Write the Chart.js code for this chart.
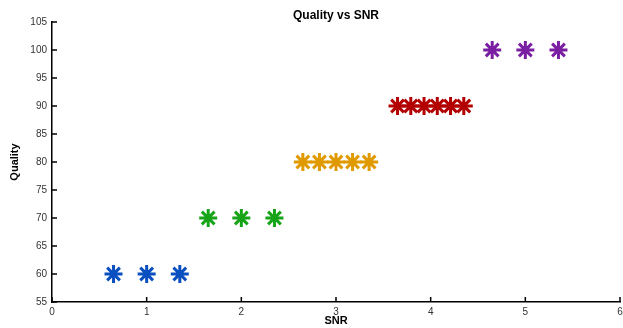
<!DOCTYPE html>
<html>
<head>
<meta charset="utf-8">
<script src="https://cdn.jsdelivr.net/npm/chart.js@4.4.0/dist/chart.umd.min.js"></script>
<style>
  html, body { margin: 0; padding: 0; background: #fff; }
  #wrap { width: 623px; height: 328px; }
</style>
</head>
<body>
<div id="wrap"><canvas id="chart" width="623" height="328"></canvas></div>
<script>
// data
const snrBlue = [0.65, 1.0, 1.35];
const qualBlue = [60, 60, 60];
const snrGreen = [1.65, 2.0, 2.35];
const qualGreen = [70, 70, 70];
const snrOrange = [2.65, 2.825, 3.0, 3.175, 3.35];
const qualOrange = [80, 80, 80, 80, 80];
const snrRed = [3.65, 3.79, 3.93, 4.07, 4.21, 4.35];
const qualRed = [90, 90, 90, 90, 90, 90];
const snrPurple = [4.65, 5.0, 5.35];
const qualPurple = [100, 100, 100];

const xTicks = [0, 1, 2, 3, 4, 5, 6];
const yTicks = [55, 60, 65, 70, 75, 80, 85, 90, 95, 100, 105];

function pts(xs, ys) {
    return xs.map((x, i) => ({ x: x, y: ys[i] }));
}

function series(xs, ys, color) {
    return {
        data: pts(xs, ys),
        pointStyle: 'star',
        pointRadius: 9,
        pointBorderWidth: 3,
        borderColor: color,
        backgroundColor: color,
        showLine: false
    };
}

// ticks pointing into the plot, like the matlab axes
const innerTicks = {
    id: 'innerTicks',
    afterDatasetsDraw(chart) {
        const ctx = chart.ctx;
        const xs = chart.scales.x, ys = chart.scales.y;
        ctx.save();
        ctx.strokeStyle = '#000';
        ctx.lineWidth = 1.5;
        ctx.beginPath();
        xTicks.forEach(v => {
            const px = xs.getPixelForValue(v);
            ctx.moveTo(px, ys.bottom);
            ctx.lineTo(px, ys.bottom - 5);
        });
        yTicks.forEach(v => {
            const py = ys.getPixelForValue(v);
            ctx.moveTo(xs.left, py);
            ctx.lineTo(xs.left + 5, py);
        });
        ctx.stroke();
        ctx.restore();
    }
};

const tickFont = { family: 'Liberation Sans, Arial, sans-serif', size: 10 };
const axisFont = { family: 'Liberation Sans, Arial, sans-serif', size: 11, weight: 'bold' };
const titleFont = { family: 'Liberation Sans, Arial, sans-serif', size: 12, weight: 'bold', lineHeight: 1 };

new Chart(document.getElementById('chart'), {
    type: 'scatter',
    data: {
        datasets: [
            series(snrBlue, qualBlue, '#0a4fc0'),
            series(snrGreen, qualGreen, '#18a418'),
            series(snrOrange, qualOrange, '#e09a00'),
            series(snrRed, qualRed, '#b30000'),
            series(snrPurple, qualPurple, '#7a1fa2')
        ]
    },
    options: {
        responsive: false,
        animation: false,
        layout: { autoPadding: false, padding: { left: 0, right: 3, top: 0, bottom: 0 } },
        plugins: {
            legend: { display: false },
            tooltip: { enabled: false },
            title: {
                display: true,
                fullSize: false,
                text: 'Quality vs SNR',
                color: '#000',
                font: titleFont,
                padding: { top: 10, bottom: 0 }
            }
        },
        scales: {
            x: {
                type: 'linear',
                min: 0,
                max: 6,
                afterBuildTicks: s => { s.ticks = xTicks.map(v => ({ value: v })); },
                afterFit: s => { s.height = 26; s.paddingRight = 0; },
                ticks: { color: '#333', font: tickFont, padding: 4 },
                grid: { display: false, drawTicks: false },
                border: { display: true, color: '#000', width: 1.5 },
                title: { display: true, text: 'SNR', color: '#000', font: axisFont, padding: { top: 0, bottom: 0 } }
            },
            y: {
                type: 'linear',
                min: 55,
                max: 105,
                afterBuildTicks: s => { s.ticks = yTicks.map(v => ({ value: v })); },
                afterFit: s => { s.width = 52; },
                ticks: { color: '#333', font: tickFont, padding: 5 },
                grid: { display: false, drawTicks: false },
                border: { display: true, color: '#000', width: 1.5 },
                title: { display: true, text: 'Quality', color: '#000', font: axisFont, padding: { top: 8, bottom: 0 } }
            }
        }
    },
    plugins: [innerTicks]
});
</script>
</body>
</html>
